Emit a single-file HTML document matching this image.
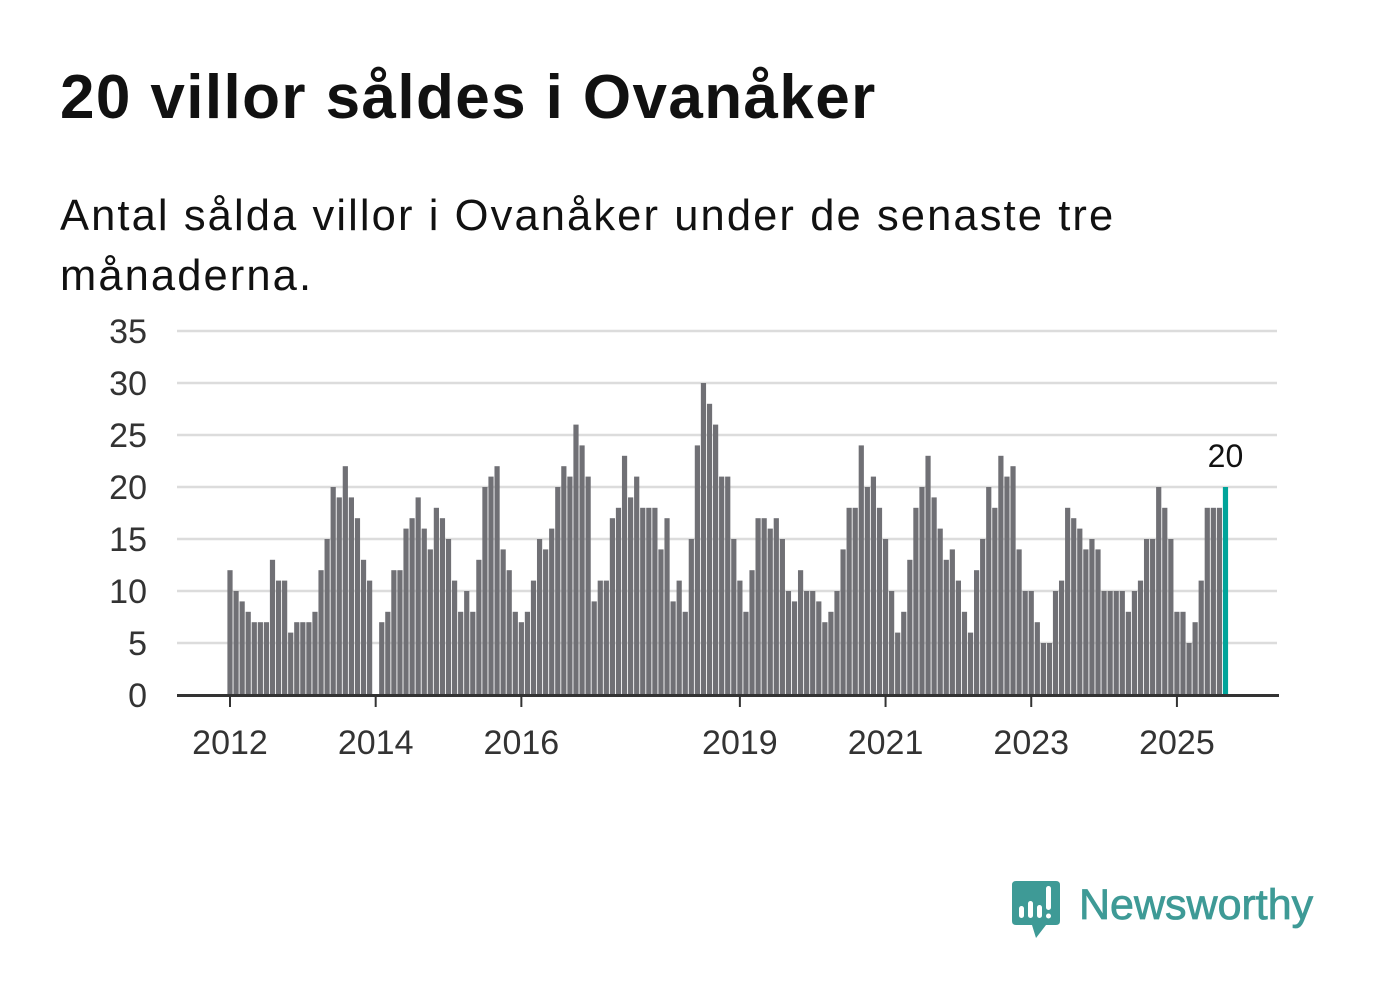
<!DOCTYPE html>
<html><head><meta charset="utf-8"><style>
body{margin:0;width:1382px;height:999px;background:#fff;font-family:"Liberation Sans",sans-serif;position:relative;overflow:hidden}
#title{position:absolute;left:60px;top:62px;font-size:62px;letter-spacing:1.4px;font-weight:bold;color:#111;margin:0;white-space:nowrap;line-height:72px}
#sub{position:absolute;left:60px;top:186px;font-size:43.5px;letter-spacing:2.1px;color:#111;line-height:60px;width:1100px;margin:0}
svg{position:absolute;left:0;top:0}
</style></head><body>
<h1 id="title">20 villor såldes i Ovanåker</h1>
<p id="sub">Antal sålda villor i Ovanåker under de senaste tre månaderna.</p>
<svg id="chart" width="1382" height="999"></svg>
<svg width="1382" height="999" style="pointer-events:none">
<path d="M1016 881 H1056 Q1060 881 1060 885 V921 Q1060 925 1056 925 H1046 L1036 938 L1032 925 H1016 Q1012 925 1012 921 V885 Q1012 881 1016 881Z" fill="#3e9a96"/>
<rect x="1019" y="906" width="5" height="12" rx="2.5" fill="#fff"/>
<rect x="1028" y="901" width="5" height="17" rx="2.5" fill="#fff"/>
<rect x="1037" y="905" width="5" height="13" rx="2.5" fill="#fff"/>
<rect x="1046" y="886" width="5" height="24" rx="2.5" fill="#fff"/>
<circle cx="1048.5" cy="916" r="2.5" fill="#fff"/>
<text x="1079" y="919" font-size="43" font-family="Liberation Sans, sans-serif" fill="#3e9a96" stroke="#3e9a96" stroke-width="0.8">Newsworthy</text>
</svg>
<script>
const values=[12,10,9,8,7,7,7,13,11,11,6,7,
7,7,8,12,15,20,19,22,19,17,13,11,
0,7,8,12,12,16,17,19,16,14,18,17,
15,11,8,10,8,13,20,21,22,14,12,8,
7,8,11,15,14,16,20,22,21,26,24,21,
9,11,11,17,18,23,19,21,18,18,18,14,
17,9,11,8,15,24,30,28,26,21,21,15,
11,8,12,17,17,16,17,15,10,9,12,10,
10,9,7,8,10,14,18,18,24,20,21,18,
15,10,6,8,13,18,20,23,19,16,13,14,
11,8,6,12,15,20,18,23,21,22,14,10,
10,7,5,5,10,11,18,17,16,14,15,14,
10,10,10,10,8,10,11,15,15,20,18,15,
8,8,5,7,11,18,18,18,20];
const yTicks=[0,5,10,15,20,25,30,35];
const xTickLabels=["2012","2014","2016","2019","2021","2023","2025"];
const xTickIdx=[0,24,48,84,108,132,156];
const svg=document.getElementById('chart');
const NS='http://www.w3.org/2000/svg';
const x0=230,step=6.07,yBase=695,yPer=10.4;
const xs=i=>x0+i*step;
const ys=v=>yBase-v*yPer;
function mk(t,a){const e=document.createElementNS(NS,t);for(const k in a)e.setAttribute(k,a[k]);svg.appendChild(e);return e;}
yTicks.forEach(v=>{
 if(v>0){const g=mk('line',{x1:177,x2:1277,y1:ys(v),y2:ys(v),stroke:'#dcdcdc','stroke-width':2.5});
 
 }
 const t=mk('text',{x:147,y:ys(v)+12,'font-size':34,'text-anchor':'end',fill:'#333','font-family':'Liberation Sans, sans-serif'});
 t.textContent=v;
 
 
});
values.forEach((v,i)=>{
 const last=i===values.length-1;
 const r=mk('rect',{x:xs(i)-2.6,y:ys(v),width:5.2,height:v*yPer,fill:last?'#00a49a':'#707075'});
 
 
});
const lv=values[values.length-1];
const lab=mk('text',{x:xs(values.length-1),y:ys(lv)-20,'font-size':32,'text-anchor':'middle',fill:'#111','font-family':'Liberation Sans, sans-serif'});
lab.textContent=lv;


const ax=mk('line',{x1:177,x2:1279,y1:695.5,y2:695.5,stroke:'#333','stroke-width':3});


xTickIdx.forEach((idx,k)=>{
 const tk=mk('line',{x1:xs(idx),x2:xs(idx),y1:695,y2:707,stroke:'#333','stroke-width':2});
 
 
 const t=mk('text',{x:xs(idx),y:754,'font-size':34,'text-anchor':'middle',fill:'#333','font-family':'Liberation Sans, sans-serif'});
 t.textContent=xTickLabels[k];
 
 
});
</script>
</body></html>
